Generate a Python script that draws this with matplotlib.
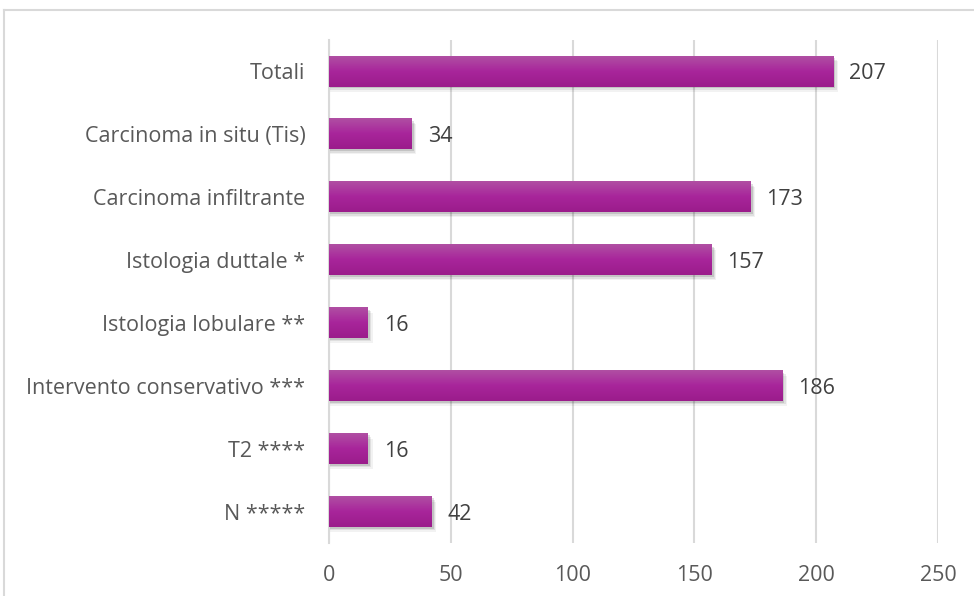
import numpy as np
import matplotlib
matplotlib.use("Agg")
import matplotlib.pyplot as plt
from matplotlib.colors import LinearSegmentedColormap
from matplotlib.lines import Line2D

categories = ["Totali", "Carcinoma in situ (Tis)", "Carcinoma infiltrante",
              "Istologia duttale *", "Istologia lobulare **",
              "Intervento conservativo ***", "T2 ****", "N *****"]
values = [207, 34, 173, 157, 16, 186, 16, 42]
x_ticks = [0, 50, 100, 150, 200, 250]

plt.rcParams['font.family'] = ['Open Sans', 'DejaVu Sans']

fig = plt.figure(figsize=(9.74, 5.96), dpi=100)
ax = fig.add_axes([329 / 974, 1 - 543 / 596, (938 - 329) / 974, (543 - 40) / 596])

# purple gradient, lighter at the top of each bar
grad = LinearSegmentedColormap.from_list("bar", ["#B04FA3", "#A8259B", "#9B1C8B"])
g = np.linspace(0, 1, 64).reshape(-1, 1)

h = 0.48
y = np.arange(len(categories))
for yi, v in zip(y, values):
    # soft shadow under the bar
    for k, a in enumerate([0.12, 0.08, 0.05]):
        ax.add_patch(plt.Rectangle((0.3, yi - h / 2 + 0.03 + k * 0.025), v + 0.6 + k * 0.5, h,
                                   color="black", alpha=a, lw=0, zorder=2))
    ax.imshow(g, cmap=grad, aspect="auto", zorder=3,
              extent=(0, v, yi + h / 2, yi - h / 2), interpolation="bilinear")
    ax.text(v + 6.5, yi + 0.04, str(v), va="center", ha="left",
            fontsize=15.5, color="#404040", zorder=4)

ax.set_xlim(0, 250)
ax.set_ylim(len(categories) - 0.5, -0.5)
ax.set_xticks(x_ticks)
ax.set_yticks(y)
ax.set_yticklabels(categories)
ax.tick_params(axis="y", length=0, pad=17, labelsize=15.5, labelcolor="#595959")
ax.tick_params(axis="x", length=0, pad=16, labelsize=15.5, labelcolor="#595959")
ax.xaxis.grid(True, color="#D9D9D9", linewidth=1.5, zorder=0)
ax.set_axisbelow(True)
for s in ["top", "right", "bottom"]:
    ax.spines[s].set_visible(False)
ax.spines["left"].set_color("#D9D9D9")
ax.spines["left"].set_linewidth(1.5)

# outer chart frame
fig.add_artist(Line2D([4 / 974, 1], [1 - 10 / 596] * 2, transform=fig.transFigure,
                      color="#D9D9D9", lw=1.5))
fig.add_artist(Line2D([4 / 974] * 2, [0, 1 - 10 / 596], transform=fig.transFigure,
                      color="#D9D9D9", lw=1.5))

fig.savefig("out.png", dpi=100)
